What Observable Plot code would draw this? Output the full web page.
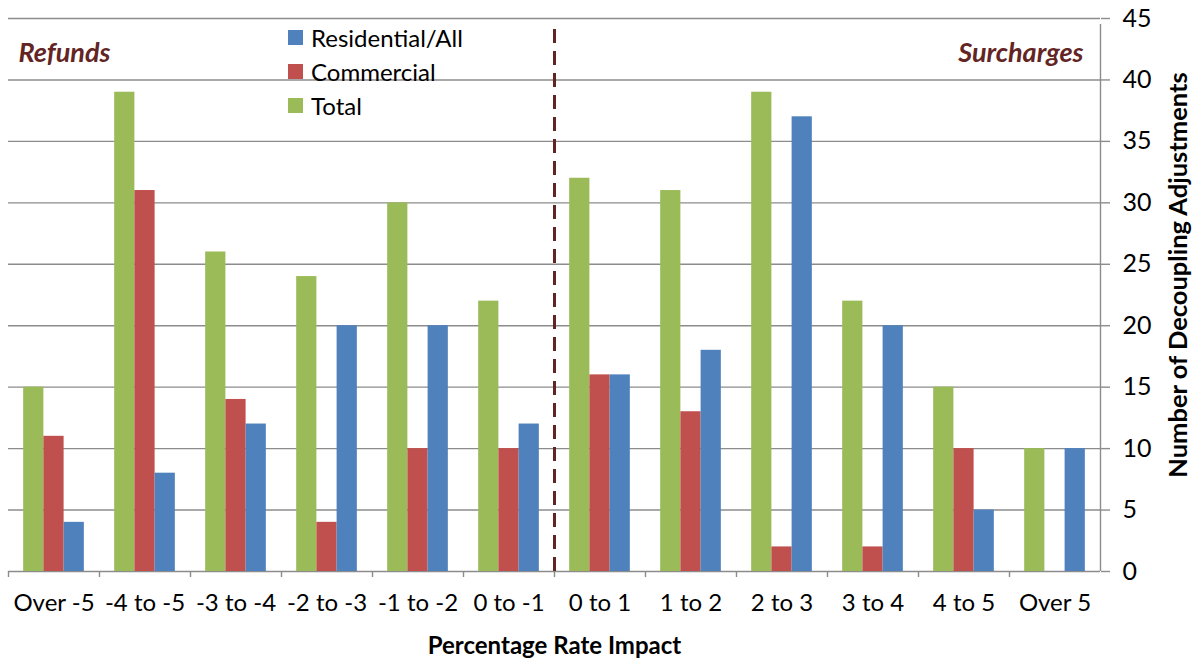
<!DOCTYPE html>
<html>
<head>
<meta charset="utf-8">
<script src="https://cdn.jsdelivr.net/npm/d3@7"></script>
<script src="https://cdn.jsdelivr.net/npm/@observablehq/plot@0.6"></script>
<style>
  body { margin: 0; background: #fff; }
  #chart { position: relative; width: 1193px; height: 658px; font-family: Lato, sans-serif; }
  .legend { position: absolute; left: 288px; top: 20px; font-size: 24px; color: #000; }
  .legend .item { display: flex; align-items: center; height: 34px; }
  .legend .swatch { width: 15px; height: 15px; margin-right: 8px; }
</style>
</head>
<body>
<div id="chart"></div>
<script>
// Rate impact buckets (percent), refunds on the left, surcharges on the right
const categories = ["Over -5", "-4 to -5", "-3 to -4", "-2 to -3", "-1 to -2", "0 to -1",
                    "0 to 1", "1 to 2", "2 to 3", "3 to 4", "4 to 5", "Over 5"];
const seriesNames = ["Total", "Commercial", "Residential/All"];
const seriesColors = ["#9BBB59", "#C0504D", "#4F81BD"];
const totalCounts       = [15, 39, 26, 24, 30, 22, 32, 31, 39, 22, 15, 10];
const commercialCounts  = [11, 31, 14,  4, 10, 10, 16, 13,  2,  2, 10,  0];
const residentialCounts = [ 4,  8, 12, 20, 20, 12, 16, 18, 37, 20,  5, 10];
const yTicks = [0, 5, 10, 15, 20, 25, 30, 35, 40, 45];
const legendOrder = ["Residential/All", "Commercial", "Total"];
const sideLabels = ["Refunds", "Surcharges"];
const dividerAt = "0 to 1";

const seriesValues = [totalCounts, commercialCounts, residentialCounts];
const rows = categories.flatMap((category, i) =>
  seriesNames.map((series, j) => ({category, series, value: seriesValues[j][i]})));

const width = 1193, height = 658;
const marginLeft = 8, marginRight = 93, marginTop = 18, marginBottom = 87;
// each category band holds three bars plus 0.75 bar of space on each side
const bandWidth = (width - marginLeft - marginRight) / categories.length;
const slot = bandWidth / 4.5;
const pad = 0.75 * slot;

const gridColor = "#8c8c8c";
const accent = "#632523";

const chart = Plot.plot({
  width, height, marginLeft, marginRight, marginTop, marginBottom,
  style: {fontFamily: "Lato, sans-serif", fontSize: "24px", color: "#000", background: "#fff"},
  x: {type: "band", domain: categories, padding: 0, label: null},
  y: {domain: [0, 45], label: null},
  color: {domain: seriesNames, range: seriesColors},
  marks: [
    Plot.gridY(yTicks, {stroke: gridColor, strokeOpacity: 1, strokeWidth: 1.4}),
    ...seriesNames.map((s, j) =>
      Plot.barY(rows.filter(d => d.series === s), {
        x: "category", y: "value", fill: "series",
        insetLeft: pad + j * slot,
        insetRight: bandWidth - pad - (j + 1) * slot
      })),
    // category boundary ticks
    Plot.axisX({tickSize: 6, dx: -bandWidth / 2, tickFormat: () => "", stroke: gridColor, strokeWidth: 1.4, label: null}),
    // category labels
    Plot.axisX({tickSize: 0, tickPadding: 22, fontSize: 24, fill: "#000", label: null}),
    // right-hand value axis and its line
    Plot.axisY(yTicks, {anchor: "right", tickSize: 9, tickPadding: 13, textAnchor: "start",
                        stroke: gridColor, strokeWidth: 1.4, fill: "#000", fontSize: 25, label: null}),
    Plot.ruleX([categories[categories.length - 1]], {dx: bandWidth / 2, y1: 0, y2: 45, insetBottom: -6,
                                                     stroke: gridColor, strokeWidth: 1.4}),
    // refunds / surcharges divider
    Plot.ruleX([dividerAt], {dx: -bandWidth / 2, y1: 0, y2: 44.6, stroke: accent, strokeWidth: 3,
                             strokeDasharray: "14,8"}),
    Plot.text([sideLabels[0]], {frameAnchor: "top-left", dx: 10, dy: 24, textAnchor: "start",
                                fontSize: 27, fontWeight: "bold", fontStyle: "italic", fill: accent}),
    Plot.text([sideLabels[1]], {frameAnchor: "top-right", dx: -17, dy: 24, textAnchor: "end",
                                fontSize: 27, fontWeight: "bold", fontStyle: "italic", fill: accent}),
    // axis titles
    Plot.text(["Percentage Rate Impact"], {frameAnchor: "bottom", dy: 82, fontSize: 24,
                                           fontWeight: "bold", fill: "#000"}),
    Plot.text(["Number of Decoupling Adjustments"], {frameAnchor: "right", textAnchor: "middle",
                                                     dx: 78, dy: -20, rotate: -90,
                                                     fontSize: 25.5, fontWeight: "bold", fill: "#000"})
  ]
});

const container = document.getElementById("chart");
container.appendChild(chart);

// vertical legend drawn from the color scale
const color = chart.scale("color");
const legend = document.createElement("div");
legend.className = "legend";
for (const name of legendOrder) {
  const item = document.createElement("div");
  item.className = "item";
  const sw = document.createElement("span");
  sw.className = "swatch";
  sw.style.background = color.range[color.domain.indexOf(name)];
  const label = document.createElement("span");
  label.textContent = name;
  item.append(sw, label);
  legend.appendChild(item);
}
container.appendChild(legend);
</script>
</body>
</html>
